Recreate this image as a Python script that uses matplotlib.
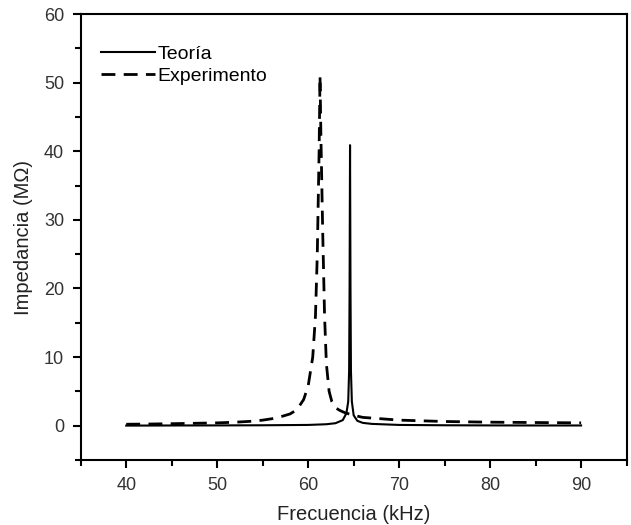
import matplotlib
matplotlib.use("Agg")
import matplotlib.pyplot as plt
from matplotlib.ticker import MultipleLocator

plt.rcParams['font.family'] = ['Liberation Sans', 'DejaVu Sans']

# Theory curve
theory_x = [40, 45, 50, 55, 60, 62, 63, 63.8, 64.2, 64.4, 64.5, 64.55, 64.6,
            64.65, 64.7, 64.8, 65.0, 65.4, 66, 67, 70, 75, 80, 85, 90]
theory_y = [0.0, 0.02, 0.03, 0.05, 0.1, 0.2, 0.35, 0.8, 1.8, 3.5, 8, 20, 40.9,
            20, 8, 3.5, 1.5, 0.7, 0.4, 0.25, 0.1, 0.05, 0.03, 0.02, 0.02]

# Experimental curve
exp_x = [40, 42, 45, 48, 50, 52, 54, 55, 56, 57, 58, 58.5, 59, 59.5, 60, 60.5,
         60.8, 61.0, 61.2, 61.3, 61.4, 61.6, 61.8, 62.0, 62.3, 62.6, 63, 63.5,
         64, 65, 66, 68, 70, 75, 80, 85, 90]
exp_y = [0.2, 0.22, 0.28, 0.35, 0.4, 0.5, 0.65, 0.8, 1.0, 1.3, 1.7, 2.1, 2.8,
         3.8, 5.8, 10, 16, 25, 40, 51, 42, 28, 16, 9, 5, 3.5, 2.6, 2.2, 1.9,
         1.5, 1.2, 1.0, 0.8, 0.6, 0.5, 0.45, 0.4]

fig = plt.figure(figsize=(6.31, 5.25), dpi=100)
ax = fig.add_axes([0.128, 0.124, 0.865, 0.849])

ax.plot(theory_x, theory_y, color='black', lw=1.5, label='Teoría')
ax.plot(exp_x, exp_y, color='black', lw=2, dashes=(5, 3), label='Experimento')

ax.set_xlim(35, 95)
ax.set_ylim(-5, 60)
ax.xaxis.set_major_locator(MultipleLocator(10))
ax.xaxis.set_minor_locator(MultipleLocator(5))
ax.yaxis.set_major_locator(MultipleLocator(10))
ax.yaxis.set_minor_locator(MultipleLocator(5))
ax.set_xticks([40, 50, 60, 70, 80, 90])
ax.tick_params(which='both', direction='out', width=1.5, labelsize=13,
               labelcolor='#333333', top=False, right=False)
ax.tick_params(which='major', length=6, pad=6)
ax.tick_params(which='minor', length=4)
for s in ax.spines.values():
    s.set_linewidth(1.5)

ax.set_xlabel('Frecuencia (kHz)', fontsize=14.5, color='#222222', labelpad=8)
ax.set_ylabel('Impedancia (MΩ)', fontsize=14.5, color='#222222', labelpad=8)

ax.legend(loc='upper left', bbox_to_anchor=(0.005, 0.97), frameon=False,
          fontsize=14, handlelength=2.8, handletextpad=0.1, labelspacing=0.25)

fig.savefig('out.png', dpi=100)
